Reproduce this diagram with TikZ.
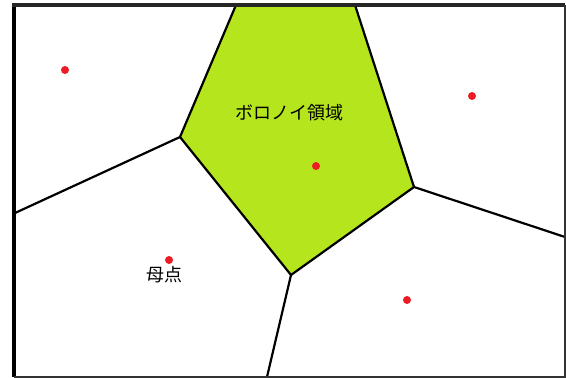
\documentclass[tikz,border=0pt]{standalone}
\usepackage{fontspec}
\newfontfamily\jpfont{Noto Sans CJK JP}
\definecolor{lime}{HTML}{B5E61D}
\definecolor{seedred}{HTML}{ED1C24}
\tikzset{
  edge/.style={line width=2.2pt, black, line join=round},
  seed/.style={circle, fill=seedred, inner sep=0pt, minimum size=8pt},
  lbl/.style={font=\jpfont\fontsize{18pt}{20pt}\selectfont, inner sep=0pt},
  frame/.style={black}
}
\begin{document}
\begin{tikzpicture}[x=1pt,y=-1pt]
\useasboundingbox (0,0) rectangle (566,378);
\fill[white] (0,0) rectangle (566,378);
% polygon vertices
\coordinate (tl) at (236,5);
\coordinate (tr) at (355,5);
\coordinate (r) at (414,187);
\coordinate (b) at (291,275);
\coordinate (l) at (180,137);
% border ends
\coordinate (lw) at (15,213);
\coordinate (re) at (565,237);
\coordinate (bs) at (267,377);
% region
\fill[lime] (tl) -- (tr) -- (r) -- (b) -- (l) -- cycle;
\draw[edge] (tl) -- (l) -- (b) -- (r) -- (tr);
\draw[edge] (l) -- (lw);
\draw[edge] (r) -- (re);
\draw[edge] (b) -- (bs);
% frame
\coordinate (f1) at (14,377);
\coordinate (f2) at (14,5);
\coordinate (f3) at (565,5);
\coordinate (f4) at (565,377);
\draw[frame, line width=4pt] (f1) -- (f2);
\draw[frame, line width=4pt, black!85] (12,5) -- (f3);
\draw[frame, line width=2pt, black!80] (f3) -- (f4) -- (f1);
% seeds
\node[seed] (s1) at (65,70) {};
\node[seed] (s2) at (472,96) {};
\node[seed] (s3) at (316,166) {};
\node[seed] (s4) at (169,260) {};
\node[seed] (s5) at (407,300) {};
% labels
\node[lbl] (t1) at (289,113) {ボロノイ領域};
\node[lbl] (t2) at (164,275) {母点};
\end{tikzpicture}
\end{document}
